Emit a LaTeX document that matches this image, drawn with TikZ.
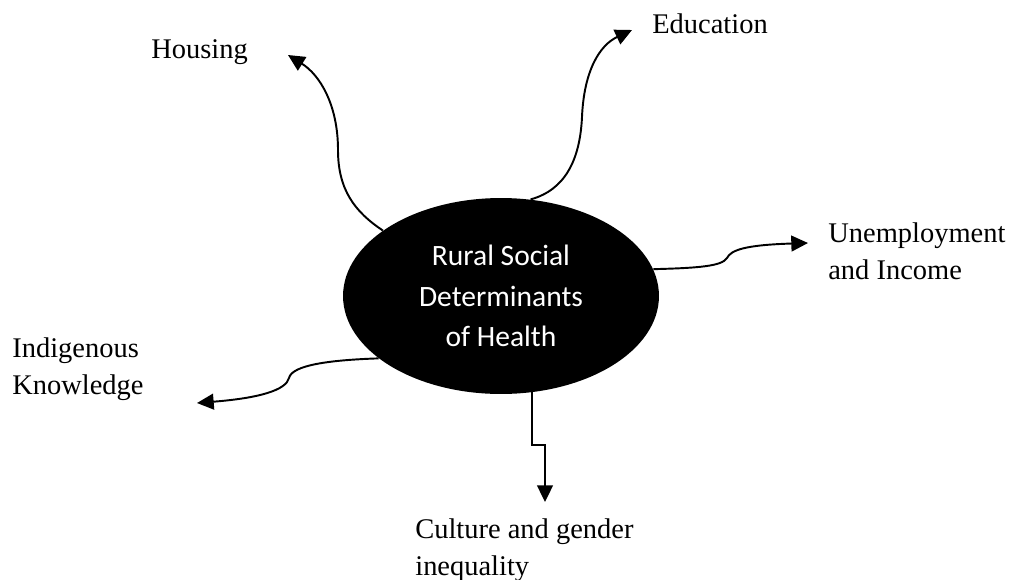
\documentclass[tikz,border=0pt]{standalone}
\usepackage{fontspec}
\setmainfont{Liberation Serif}
\newfontfamily\calibri{Carlito}
\usetikzlibrary{shapes.geometric,arrows.meta}

\begin{document}
\begin{tikzpicture}[x=0.02cm, y=-0.02cm,
  lbl/.style={anchor=west, align=left, inner sep=0pt, font=\fontsize{16.2}{20.8}\selectfont},
  arr/.style={line width=1.1pt, -{Triangle[length=9.5pt, width=9pt]}}]
\useasboundingbox (0,0) rectangle (1015,579);

\node[ellipse, fill=black, text=white, inner sep=0pt, minimum width=6.32cm, minimum height=3.92cm,
  align=center, font=\calibri\fontsize{16.8}{23.2}\selectfont] (core) at (501,296) {Rural Social\\Determinants\\of Health};

\node[lbl] (hous) at (151,52) {Housing};
\node[lbl] (edu) at (652,24) {Education};
\node[lbl] (unemp) at (828,251) {Unemployment\\and Income};
\node[lbl] (indig) at (12,369) {Indigenous\\Knowledge};
\node[lbl] (cult) at (415,550) {Culture and gender\\inequality};

\coordinate (hous tip) at (288,55);
\coordinate (edu tip) at (632,30);
\coordinate (unemp tip) at (808,243);
\coordinate (indig tip) at (197,403);
\coordinate (cult tip) at (545,502);

\draw[arr] (core.151) .. controls (355,212) and (338,190) .. (338,150)
  .. controls (338,105) and (320,75) .. (hous tip);
\draw[arr] (core.73) .. controls (565,190) and (580,160) .. (582,117)
  .. controls (584,70) and (600,45) .. (edu tip);
\draw[arr] (core.10) .. controls (700,268) and (722,266) .. (727,258)
  .. controls (731,250) and (745,245) .. (unemp tip);
\draw[arr] (core.207) .. controls (330,360) and (292,365) .. (289,378)
  .. controls (286,390) and (260,398) .. (indig tip);
\draw[arr] (core.288) -- ++(0,53) -| (cult tip);
\end{tikzpicture}
\end{document}
